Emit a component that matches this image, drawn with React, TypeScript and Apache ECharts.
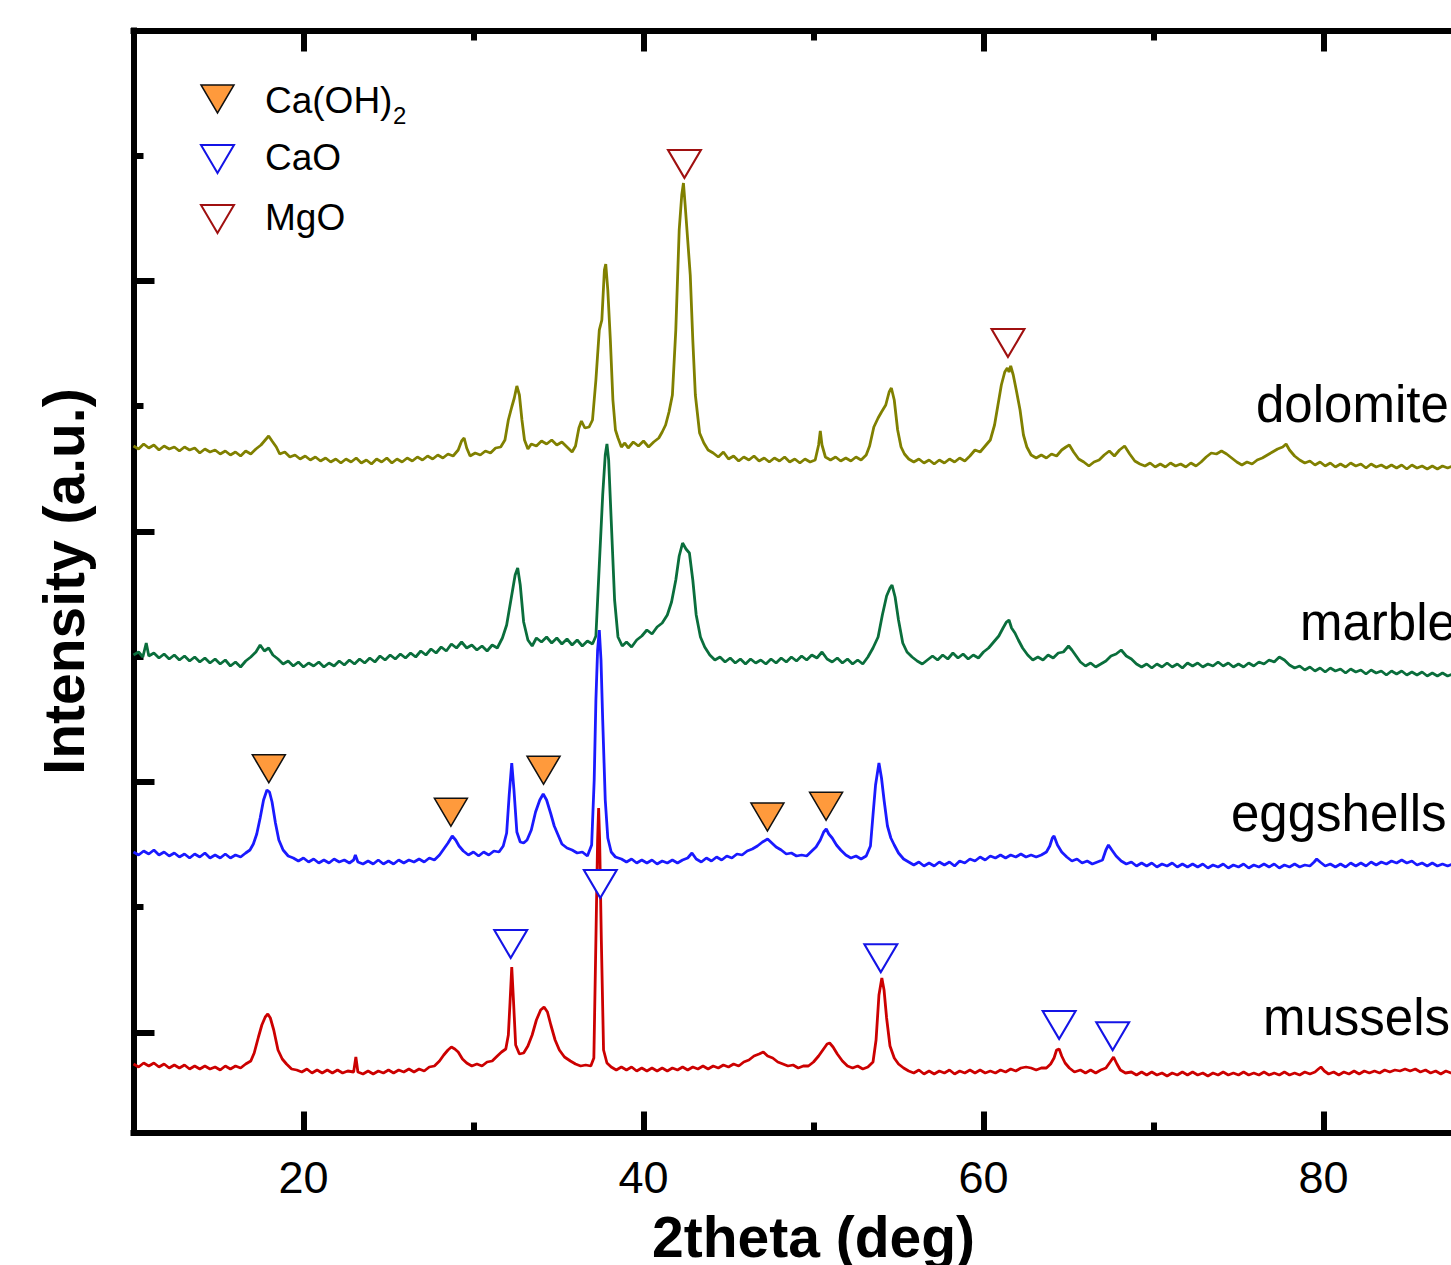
import React, { useEffect, useRef } from "react";
import * as echarts from "echarts";

// ---------- axis ticks ----------
const xMajorTicks = [20, 40, 60, 80];
const xMinorTicks = [30, 50, 70];
const yMajorTicks = [802, 2806, 4810, 6814];
const yMinorTicks = [1804, 3808, 5812, 7816];

// ---------- sample labels ----------
const sampleNames = ["dolomite", "marble", "eggshells", "mussels"];
const sampleColors = ["#808000", "#0a6e3c", "#1a1aff", "#cc0000"];

// ---------- XRD patterns [2theta, intensity] ----------
const dolomite: [number, number][] = [
  [10,5492],[10.3,5468],[10.6,5508],[10.9,5476],[11.2,5500],[11.5,5460],[11.8,5492],[12.1,5468],[12.4,5484],[12.7,5452],
  [13,5484],[13.3,5460],[13.6,5476],[13.9,5436],[14.2,5468],[14.5,5444],[14.8,5460],[15.1,5428],[15.4,5452],[15.7,5420],
  [16,5444],[16.3,5412],[16.6,5452],[16.9,5428],[17.2,5468],[17.5,5500],[17.75,5540],[17.95,5572],[18.15,5532],[18.4,5484],
  [18.6,5428],[18.9,5444],[19.2,5404],[19.5,5420],[19.8,5388],[20.1,5412],[20.4,5380],[20.7,5404],[21,5372],[21.3,5396],
  [21.6,5364],[21.9,5388],[22.2,5356],[22.5,5388],[22.8,5364],[23.1,5396],[23.4,5356],[23.7,5380],[24,5348],[24.3,5388],
  [24.6,5364],[24.9,5396],[25.2,5356],[25.5,5388],[25.8,5364],[26.1,5396],[26.4,5372],[26.7,5404],[27,5380],[27.3,5412],
  [27.6,5388],[27.9,5420],[28.2,5396],[28.5,5428],[28.8,5412],[29.1,5460],[29.3,5532],[29.45,5556],[29.6,5476],[29.8,5412],
  [30.1,5436],[30.4,5420],[30.7,5452],[31,5436],[31.3,5476],[31.6,5484],[31.85,5540],[32.05,5700],[32.25,5804],[32.4,5876],
  [32.55,5972],[32.7,5900],[32.85,5700],[33,5540],[33.2,5468],[33.4,5508],[33.7,5492],[34,5532],[34.3,5508],[34.6,5540],
  [34.9,5500],[35.2,5524],[35.5,5484],[35.8,5444],[36,5492],[36.2,5636],[36.35,5692],[36.55,5636],[36.8,5644],[37,5700],
  [37.2,6020],[37.4,6420],[37.55,6500],[37.7,6900],[37.78,6948],[37.9,6740],[38.05,6340],[38.2,5860],[38.35,5620],[38.5,5556],
  [38.7,5484],[38.9,5516],[39.1,5476],[39.4,5524],[39.7,5492],[40,5532],[40.3,5484],[40.6,5524],[40.9,5556],[41.1,5604],
  [41.3,5660],[41.5,5764],[41.7,5900],[41.9,6420],[42.1,7220],[42.25,7500],[42.35,7596],[42.45,7420],[42.6,7140],[42.75,6860],
  [42.9,6340],[43.05,5900],[43.3,5596],[43.55,5516],[43.8,5460],[44.1,5436],[44.4,5404],[44.7,5444],[45,5388],[45.3,5412],
  [45.6,5372],[45.9,5404],[46.2,5380],[46.5,5412],[46.8,5372],[47.1,5396],[47.4,5364],[47.7,5396],[48,5372],[48.3,5404],
  [48.6,5364],[48.9,5388],[49.2,5356],[49.5,5388],[49.8,5364],[50.1,5380],[50.3,5500],[50.4,5612],[50.5,5500],[50.7,5404],
  [51,5380],[51.3,5404],[51.6,5372],[51.9,5396],[52.2,5372],[52.5,5404],[52.8,5380],[53.1,5420],[53.3,5492],[53.55,5644],
  [53.8,5716],[54,5764],[54.25,5820],[54.45,5924],[54.58,5956],[54.75,5860],[54.95,5620],[55.15,5484],[55.35,5428],[55.6,5388],
  [55.9,5364],[56.2,5388],[56.5,5356],[56.8,5380],[57.1,5348],[57.4,5380],[57.7,5356],[58,5388],[58.3,5364],[58.6,5396],
  [58.9,5372],[59.2,5412],[59.5,5460],[59.8,5444],[60.1,5492],[60.4,5540],[60.65,5660],[60.85,5820],[61.05,5980],[61.25,6084],
  [61.4,6116],[61.5,6084],[61.6,6132],[61.75,6060],[61.95,5924],[62.15,5780],[62.35,5580],[62.55,5484],[62.8,5420],[63.1,5396],
  [63.4,5420],[63.7,5396],[64,5428],[64.3,5412],[64.6,5460],[64.85,5484],[65.05,5500],[65.3,5444],[65.6,5388],[65.9,5364],
  [66.2,5332],[66.5,5364],[66.8,5380],[67.1,5420],[67.4,5452],[67.7,5412],[68,5460],[68.3,5492],[68.6,5428],[68.9,5372],
  [69.2,5348],[69.5,5332],[69.8,5356],[70.1,5324],[70.4,5348],[70.7,5324],[71,5356],[71.3,5332],[71.6,5348],[71.9,5324],
  [72.2,5356],[72.5,5332],[72.8,5364],[73.1,5404],[73.4,5436],[73.7,5428],[74,5452],[74.3,5428],[74.6,5396],[74.9,5364],
  [75.2,5340],[75.5,5364],[75.8,5348],[76.1,5380],[76.4,5396],[76.7,5420],[77,5444],[77.3,5468],[77.6,5484],[77.8,5508],
  [78,5460],[78.3,5412],[78.6,5380],[78.9,5356],[79.2,5372],[79.5,5340],[79.8,5364],[80.1,5332],[80.4,5356],[80.7,5324],
  [81,5348],[81.3,5324],[81.6,5356],[81.9,5332],[82.2,5348],[82.5,5316],[82.8,5348],[83.1,5324],[83.4,5340],[83.7,5316],
  [84,5340],[84.3,5316],[84.6,5340],[84.9,5308],[85.2,5340],[85.5,5316],[85.8,5332],[86.1,5308],[86.4,5332],[86.7,5308],
  [87,5332],[87.3,5316],[87.6,5332],[87.9,5308],[88.2,5324],[88.6,5308],[89,5324],[89.5,5308],[90,5324]
];

const marble: [number, number][] = [
  [10,3820],[10.3,3844],[10.55,3804],[10.75,3916],[10.9,3812],[11.2,3836],[11.5,3796],[11.8,3828],[12.1,3788],[12.4,3820],
  [12.7,3780],[13,3812],[13.3,3772],[13.6,3804],[13.9,3764],[14.2,3796],[14.5,3756],[14.8,3788],[15.1,3748],[15.4,3780],
  [15.7,3732],[16,3764],[16.3,3724],[16.6,3772],[16.9,3804],[17.2,3844],[17.45,3900],[17.7,3852],[17.95,3876],[18.2,3820],
  [18.5,3788],[18.8,3748],[19.1,3772],[19.4,3732],[19.7,3764],[20,3724],[20.3,3756],[20.6,3732],[20.9,3764],[21.2,3724],
  [21.5,3756],[21.8,3732],[22.1,3772],[22.4,3740],[22.7,3780],[23,3748],[23.3,3788],[23.6,3756],[23.9,3796],[24.2,3764],
  [24.5,3812],[24.8,3780],[25.1,3820],[25.4,3788],[25.7,3828],[26,3796],[26.3,3836],[26.6,3804],[26.9,3852],[27.2,3820],
  [27.5,3868],[27.8,3836],[28.1,3884],[28.4,3852],[28.7,3908],[29,3876],[29.3,3924],[29.6,3876],[29.9,3900],[30.2,3860],
  [30.5,3892],[30.8,3852],[31.1,3900],[31.4,3876],[31.7,3956],[31.95,4060],[32.2,4260],[32.45,4460],[32.6,4516],[32.75,4380],
  [32.95,4084],[33.2,3940],[33.45,3892],[33.7,3956],[34,3924],[34.3,3964],[34.6,3916],[34.9,3956],[35.2,3908],[35.5,3948],
  [35.8,3900],[36.1,3940],[36.4,3892],[36.7,3932],[37,3908],[37.2,3972],[37.4,4540],[37.6,5100],[37.75,5420],[37.85,5508],
  [37.95,5380],[38.1,4900],[38.3,4260],[38.5,3964],[38.75,3892],[39,3924],[39.3,3884],[39.6,3940],[39.9,3972],[40.2,4020],
  [40.5,3988],[40.8,4044],[41.1,4076],[41.4,4140],[41.65,4244],[41.9,4420],[42.1,4612],[42.3,4716],[42.5,4668],[42.7,4636],
  [42.9,4420],[43.1,4140],[43.35,3964],[43.6,3884],[43.9,3820],[44.2,3780],[44.5,3804],[44.8,3764],[45.1,3796],[45.4,3756],
  [45.7,3788],[46,3748],[46.3,3788],[46.6,3756],[46.9,3780],[47.2,3748],[47.5,3788],[47.8,3756],[48.1,3796],[48.4,3764],
  [48.7,3804],[49,3772],[49.3,3812],[49.6,3780],[49.9,3820],[50.2,3796],[50.5,3844],[50.8,3788],[51.1,3764],[51.4,3796],
  [51.7,3756],[52,3788],[52.3,3748],[52.6,3780],[52.9,3748],[53.2,3804],[53.5,3876],[53.8,3964],[54.05,4140],[54.3,4292],
  [54.5,4356],[54.62,4380],[54.8,4284],[55,4100],[55.25,3916],[55.5,3844],[55.8,3804],[56.1,3772],[56.4,3748],[56.7,3780],
  [57,3812],[57.3,3780],[57.6,3820],[57.9,3788],[58.2,3836],[58.5,3796],[58.8,3828],[59.1,3788],[59.4,3820],[59.7,3796],
  [60,3844],[60.3,3876],[60.6,3924],[60.9,3972],[61.15,4036],[61.35,4084],[61.5,4100],[61.65,4036],[61.85,3996],[62.05,3940],
  [62.3,3876],[62.6,3820],[62.9,3780],[63.2,3804],[63.5,3780],[63.8,3820],[64.1,3796],[64.4,3836],[64.7,3844],[65,3892],
  [65.2,3860],[65.45,3812],[65.7,3764],[66,3732],[66.3,3756],[66.6,3724],[66.9,3748],[67.2,3772],[67.5,3812],[67.8,3828],
  [68.1,3860],[68.4,3812],[68.7,3788],[69,3748],[69.3,3724],[69.6,3748],[69.9,3716],[70.2,3748],[70.5,3724],[70.8,3756],
  [71.1,3724],[71.4,3748],[71.7,3716],[72,3756],[72.3,3732],[72.6,3756],[72.9,3724],[73.2,3748],[73.5,3732],[73.8,3764],
  [74.1,3732],[74.4,3756],[74.7,3724],[75,3748],[75.3,3724],[75.6,3756],[75.9,3732],[76.2,3764],[76.5,3748],[76.8,3780],
  [77.1,3764],[77.4,3804],[77.7,3780],[78,3740],[78.3,3716],[78.6,3732],[78.9,3700],[79.2,3724],[79.5,3692],[79.8,3716],
  [80.1,3684],[80.4,3716],[80.7,3692],[81,3708],[81.3,3676],[81.6,3708],[81.9,3684],[82.2,3700],[82.5,3668],[82.8,3700],
  [83.1,3676],[83.4,3692],[83.7,3660],[84,3692],[84.3,3668],[84.6,3692],[84.9,3660],[85.2,3684],[85.5,3660],[85.8,3684],
  [86.1,3652],[86.4,3676],[86.7,3652],[87,3676],[87.3,3652],[87.6,3668],[88,3644],[88.5,3668],[89,3644],[89.5,3668],[90,3652]
];

const eggshells: [number, number][] = [
  [10,2244],[10.3,2220],[10.6,2252],[10.9,2228],[11.2,2260],[11.5,2220],[11.8,2244],[12.1,2212],[12.4,2236],[12.7,2204],
  [13,2228],[13.3,2196],[13.6,2228],[13.9,2204],[14.2,2236],[14.5,2196],[14.8,2220],[15.1,2196],[15.4,2228],[15.7,2196],
  [16,2220],[16.3,2204],[16.6,2236],[16.85,2260],[17.05,2308],[17.25,2388],[17.45,2516],[17.65,2660],[17.85,2740],[18,2724],
  [18.15,2644],[18.35,2476],[18.55,2340],[18.8,2260],[19.1,2212],[19.4,2196],[19.7,2172],[20,2196],[20.3,2164],[20.6,2188],
  [20.9,2156],[21.2,2180],[21.5,2156],[21.8,2188],[22.1,2164],[22.4,2180],[22.7,2156],[22.95,2180],[23.05,2220],[23.2,2164],
  [23.5,2148],[23.8,2172],[24.1,2148],[24.4,2180],[24.7,2148],[25,2172],[25.3,2148],[25.6,2180],[25.9,2156],[26.2,2180],
  [26.5,2164],[26.8,2188],[27.1,2164],[27.4,2196],[27.7,2180],[28,2220],[28.25,2268],[28.5,2316],[28.75,2372],[28.95,2340],
  [29.15,2292],[29.4,2252],[29.7,2220],[30,2244],[30.3,2212],[30.6,2244],[30.9,2220],[31.2,2252],[31.5,2244],[31.75,2292],
  [31.95,2396],[32.1,2700],[32.25,2956],[32.38,2740],[32.55,2404],[32.75,2324],[32.95,2316],[33.15,2340],[33.4,2420],[33.65,2564],
  [33.9,2660],[34.1,2708],[34.3,2660],[34.55,2548],[34.75,2452],[34.95,2388],[35.2,2308],[35.5,2276],[35.8,2260],[36.1,2236],
  [36.4,2244],[36.7,2212],[36.95,2300],[37.1,2820],[37.2,3460],[37.3,3860],[37.4,4020],[37.5,3780],[37.6,3300],[37.75,2660],
  [37.9,2356],[38.1,2244],[38.35,2204],[38.7,2188],[39,2164],[39.3,2188],[39.6,2156],[39.9,2180],[40.2,2156],[40.5,2180],
  [40.8,2148],[41.1,2172],[41.4,2156],[41.7,2180],[42,2156],[42.3,2180],[42.6,2196],[42.85,2236],[43.1,2188],[43.4,2164],
  [43.7,2196],[44,2172],[44.3,2204],[44.6,2180],[44.9,2212],[45.2,2196],[45.5,2228],[45.8,2220],[46.1,2252],[46.4,2268],
  [46.7,2292],[47,2324],[47.3,2348],[47.55,2316],[47.8,2284],[48.1,2260],[48.4,2228],[48.7,2236],[49,2212],[49.3,2220],
  [49.6,2212],[49.9,2252],[50.15,2284],[50.4,2340],[50.6,2404],[50.75,2428],[50.9,2388],[51.1,2356],[51.35,2300],[51.6,2260],
  [51.9,2220],[52.2,2196],[52.5,2212],[52.8,2188],[53.1,2212],[53.35,2292],[53.5,2540],[53.65,2780],[53.85,2956],[54,2836],
  [54.15,2660],[54.35,2452],[54.55,2356],[54.75,2300],[55,2236],[55.3,2188],[55.6,2164],[55.9,2140],[56.2,2164],[56.5,2132],
  [56.8,2156],[57.1,2132],[57.4,2164],[57.7,2140],[58,2164],[58.3,2132],[58.6,2172],[58.9,2156],[59.2,2188],[59.5,2172],
  [59.8,2204],[60.1,2180],[60.4,2212],[60.7,2196],[61,2220],[61.3,2196],[61.6,2220],[61.9,2204],[62.2,2228],[62.5,2204],
  [62.8,2220],[63.1,2204],[63.4,2220],[63.7,2244],[63.9,2292],[64.05,2356],[64.15,2372],[64.35,2300],[64.6,2244],[64.9,2204],
  [65.2,2172],[65.5,2188],[65.8,2156],[66.1,2172],[66.4,2148],[66.7,2164],[67,2180],[67.2,2260],[67.35,2300],[67.55,2260],
  [67.8,2212],[68.1,2172],[68.4,2148],[68.7,2164],[69,2132],[69.3,2156],[69.6,2132],[69.9,2156],[70.2,2124],[70.5,2148],
  [70.8,2132],[71.1,2156],[71.4,2124],[71.7,2148],[72,2124],[72.3,2148],[72.6,2124],[72.9,2148],[73.2,2116],[73.5,2140],
  [73.8,2124],[74.1,2148],[74.4,2116],[74.7,2140],[75,2124],[75.3,2148],[75.6,2116],[75.9,2140],[76.2,2124],[76.5,2148],
  [76.8,2124],[77.1,2148],[77.4,2116],[77.7,2140],[78,2124],[78.3,2148],[78.6,2124],[78.9,2140],[79.2,2132],[79.45,2164],
  [79.6,2188],[79.8,2164],[80.1,2132],[80.4,2148],[80.7,2124],[81,2148],[81.3,2124],[81.6,2156],[81.9,2132],[82.2,2156],
  [82.5,2132],[82.8,2164],[83.1,2140],[83.4,2164],[83.7,2148],[84,2172],[84.3,2156],[84.6,2180],[84.9,2156],[85.2,2172],
  [85.5,2140],[85.8,2156],[86.1,2132],[86.4,2156],[86.7,2132],[87,2148],[87.3,2132],[87.6,2148],[88,2132],[88.5,2148],
  [89,2132],[89.5,2148],[90,2132]
];

const mussels: [number, number][] = [
  [10,548],[10.3,524],[10.6,556],[10.9,532],[11.2,556],[11.5,524],[11.8,548],[12.1,516],[12.4,540],[12.7,516],
  [13,540],[13.3,508],[13.6,532],[13.9,508],[14.2,532],[14.5,508],[14.8,524],[15.1,500],[15.4,532],[15.7,508],
  [16,532],[16.3,516],[16.6,548],[16.9,572],[17.1,636],[17.35,764],[17.55,860],[17.75,924],[17.9,948],[18.05,916],
  [18.25,820],[18.5,660],[18.75,588],[19,548],[19.3,508],[19.6,500],[19.9,484],[20.2,508],[20.5,476],[20.8,500],
  [21.1,476],[21.4,500],[21.7,476],[22,500],[22.3,476],[22.6,492],[22.95,484],[23.08,604],[23.2,484],[23.5,468],
  [23.8,492],[24.1,468],[24.4,492],[24.7,476],[25,500],[25.3,476],[25.6,500],[25.9,484],[26.2,508],[26.5,484],
  [26.8,508],[27.1,492],[27.4,524],[27.7,532],[28,572],[28.25,620],[28.5,660],[28.7,684],[28.9,668],[29.1,644],
  [29.35,588],[29.6,556],[29.9,532],[30.2,548],[30.5,532],[30.8,564],[31.1,572],[31.4,612],[31.65,644],[31.9,668],
  [32.05,780],[32.15,1044],[32.25,1324],[32.35,1060],[32.48,700],[32.7,628],[32.95,636],[33.2,692],[33.45,780],[33.7,900],
  [33.95,980],[34.15,1004],[34.35,964],[34.55,860],[34.8,740],[35.05,660],[35.35,604],[35.7,572],[36,548],[36.3,532],
  [36.6,540],[36.9,532],[37.08,596],[37.2,1540],[37.3,2340],[37.36,2596],[37.42,2340],[37.52,1540],[37.65,660],[37.85,556],
  [38.1,524],[38.4,500],[38.7,524],[39,500],[39.3,524],[39.6,492],[39.9,516],[40.2,492],[40.5,516],[40.8,492],
  [41.1,516],[41.4,492],[41.7,516],[42,500],[42.3,524],[42.6,500],[42.9,524],[43.2,508],[43.5,532],[43.8,508],
  [44.1,532],[44.4,516],[44.7,540],[45,524],[45.3,548],[45.6,532],[45.9,564],[46.2,580],[46.5,612],[46.8,628],
  [47.05,644],[47.3,612],[47.6,596],[47.9,564],[48.2,548],[48.5,532],[48.8,540],[49.1,516],[49.4,532],[49.7,532],
  [50,564],[50.3,612],[50.55,660],[50.8,708],[50.95,716],[51.15,684],[51.4,628],[51.7,572],[52,532],[52.3,516],
  [52.6,532],[52.9,508],[53.2,524],[53.5,564],[53.68,740],[53.85,1100],[54.02,1236],[54.15,1140],[54.3,916],[54.5,692],
  [54.75,596],[55,548],[55.3,516],[55.6,492],[55.9,476],[56.2,500],[56.5,468],[56.8,492],[57.1,468],[57.4,492],
  [57.7,476],[58,500],[58.3,468],[58.6,492],[58.9,476],[59.2,500],[59.5,476],[59.8,500],[60.1,476],[60.4,492],
  [60.7,476],[61,500],[61.3,484],[61.6,508],[61.9,492],[62.2,516],[62.5,524],[62.8,516],[63.1,500],[63.4,516],
  [63.7,516],[63.95,548],[64.15,596],[64.3,660],[64.45,668],[64.6,612],[64.8,556],[65.05,516],[65.35,484],[65.7,500],
  [66,476],[66.3,500],[66.6,476],[66.9,500],[67.2,516],[67.45,564],[67.65,604],[67.85,548],[68.05,500],[68.35,476],
  [68.7,484],[69,460],[69.3,484],[69.6,460],[69.9,484],[70.2,460],[70.5,476],[70.8,452],[71.1,476],[71.4,460],
  [71.7,484],[72,460],[72.3,484],[72.6,460],[72.9,476],[73.2,452],[73.5,476],[73.8,460],[74.1,484],[74.4,460],
  [74.7,476],[75,460],[75.3,484],[75.6,460],[75.9,476],[76.2,460],[76.5,484],[76.8,460],[77.1,476],[77.4,460],
  [77.7,484],[78,460],[78.3,476],[78.6,460],[78.9,484],[79.2,468],[79.5,484],[79.7,508],[79.85,524],[80.05,492],
  [80.3,468],[80.6,484],[80.9,460],[81.2,484],[81.5,468],[81.8,492],[82.1,468],[82.4,492],[82.7,476],[83,492],
  [83.3,476],[83.6,500],[83.9,484],[84.2,500],[84.5,492],[84.8,508],[85.1,492],[85.4,508],[85.7,484],[86,500],
  [86.3,476],[86.6,492],[86.9,468],[87.2,492],[87.5,476],[88,492],[88.5,468],[89,484],[89.5,468],[90,484]
];

// ---------- phase markers [2theta, intensity] ----------
const caOH2Peaks: [number, number][] = [[17.96, 2910], [28.67, 2562], [34.12, 2898], [47.29, 2524], [50.74, 2610]];
const caOPeaks: [number, number][] = [[32.19, 1508], [37.46, 1988], [53.96, 1394], [64.45, 860], [67.6, 770]];
const mgOPeaks: [number, number][] = [[42.41, 7748], [61.44, 6316]];

const FONT = '"Liberation Sans", Arial, Helvetica, sans-serif';
const COL_CAOH2 = "#ff9a3c";
const COL_CAO = "#1414e6";
const COL_MGO = "#a01010";

function majorX(position: "top" | "bottom", withLabel: boolean, extra: any = {}) {
  return {
    type: "value", min: 10, max: 90, position, gridIndex: 0,
    axisLine: { show: true, onZero: false, lineStyle: { color: "#000", width: 6, cap: "square" } },
    axisTick: { show: true, inside: true, length: 21, customValues: xMajorTicks, lineStyle: { color: "#000", width: 6 } },
    axisLabel: {
      show: withLabel, customValues: xMajorTicks, margin: 22, fontSize: 45, fontFamily: FONT, color: "#000",
    },
    splitLine: { show: false },
    ...extra,
  };
}
function minorX(position: "top" | "bottom") {
  return {
    type: "value", min: 10, max: 90, position, gridIndex: 0,
    axisLine: { show: false, onZero: false },
    axisTick: { show: true, inside: true, length: 10, customValues: xMinorTicks, lineStyle: { color: "#000", width: 6 } },
    axisLabel: { show: false, customValues: xMinorTicks },
    splitLine: { show: false },
  };
}

export default function App() {
  const ref = useRef<HTMLDivElement>(null);
  useEffect(() => {
    if (!ref.current) return;
    const chart = echarts.init(ref.current, null, { renderer: "svg" });
    const seriesData = [dolomite, marble, eggshells, mussels];
    const labelPos = [
      { x: 1256, y: 404 },
      { x: 1300, y: 622 },
      { x: 1231, y: 813 },
      { x: 1263, y: 1017 },
    ];
    const txt = (text: string, x: number, y: number, size: number) => ({
      type: "text", x, y, z: 10,
      style: { text, font: `${size}px ${FONT}`, fill: "#000", textAlign: "left", align: "left", textVerticalAlign: "middle", verticalAlign: "middle" },
    });
    const option: any = {
      animation: false,
      backgroundColor: "#ffffff",
      grid: { left: 133.5, top: 30.5, width: 1360, height: 1102, outerBoundsMode: "none", containLabel: false },
      xAxis: [
        majorX("bottom", true, {
          name: "2theta (deg)", nameLocation: "middle", nameGap: 76,
          nameTextStyle: { fontSize: 57, fontWeight: "bold", fontFamily: FONT, color: "#000" },
        }),
        minorX("bottom"),
        majorX("top", false),
        minorX("top"),
      ],
      yAxis: [
        {
          type: "value", min: 0, max: 8816, position: "left",
          name: "Intensity (a.u.)", nameLocation: "middle", nameGap: 41,
          nameTextStyle: { fontSize: 57, fontWeight: "bold", fontFamily: FONT, color: "#000" },
          axisLine: { show: true, onZero: false, lineStyle: { color: "#000", width: 6, cap: "square" } },
          axisTick: { show: true, inside: true, length: 21, customValues: yMajorTicks, lineStyle: { color: "#000", width: 6 } },
          axisLabel: { show: false, customValues: yMajorTicks },
          splitLine: { show: false },
        },
        {
          type: "value", min: 0, max: 8816, position: "left",
          axisLine: { show: false, onZero: false },
          axisTick: { show: true, inside: true, length: 10, customValues: yMinorTicks, lineStyle: { color: "#000", width: 6 } },
          axisLabel: { show: false, customValues: yMinorTicks },
          splitLine: { show: false },
        },
      ],
      series: [
        ...seriesData.map((d, i) => ({
          type: "line", name: sampleNames[i], data: d, xAxisIndex: 0, yAxisIndex: 0,
          showSymbol: false, symbol: "none", silent: true, smooth: false,
          lineStyle: { color: sampleColors[i], width: 2.8 },
          itemStyle: { color: sampleColors[i] },
          z: 2,
        })),
        {
          type: "scatter", name: "Ca(OH)2", data: caOH2Peaks, symbol: "triangle", symbolRotate: 180,
          symbolSize: [33, 28], itemStyle: { color: COL_CAOH2, borderColor: "#111", borderWidth: 1.5, opacity: 1 }, z: 5, silent: true,
        },
        {
          type: "scatter", name: "CaO", data: caOPeaks, symbol: "triangle", symbolRotate: 180,
          symbolSize: [33, 28], itemStyle: { color: "#ffffff", borderColor: COL_CAO, borderWidth: 2, opacity: 1 }, z: 5, silent: true,
        },
        {
          type: "scatter", name: "MgO", data: mgOPeaks, symbol: "triangle", symbolRotate: 180,
          symbolSize: [33, 28], itemStyle: { color: "#ffffff", borderColor: COL_MGO, borderWidth: 2, opacity: 1 }, z: 5, silent: true,
        },
      ],
      graphic: [
        { type: "polygon", shape: { points: [[201, 85], [234, 85], [217.5, 113]] }, style: { fill: COL_CAOH2, stroke: "#111", lineWidth: 1.5 } },
        { type: "polygon", shape: { points: [[201, 145], [234, 145], [217.5, 173]] }, style: { fill: "#fff", stroke: COL_CAO, lineWidth: 2 } },
        { type: "polygon", shape: { points: [[201, 205], [234, 205], [217.5, 233]] }, style: { fill: "#fff", stroke: COL_MGO, lineWidth: 2 } },
        txt("Ca(OH)", 265, 100, 37),
        txt("2", 393, 115, 24),
        txt("CaO", 265, 157, 37),
        txt("MgO", 265, 217, 37),
        ...sampleNames.map((n, i) => txt(n, labelPos[i].x, labelPos[i].y, 51)),
      ],
    };
    chart.setOption(option);
    return () => chart.dispose();
  }, []);
  return (
    <div
      ref={ref}
      style={{ position: "fixed", left: 0, top: 0, width: "1500px", height: "1265px", background: "#fff" }}
    />
  );
}
